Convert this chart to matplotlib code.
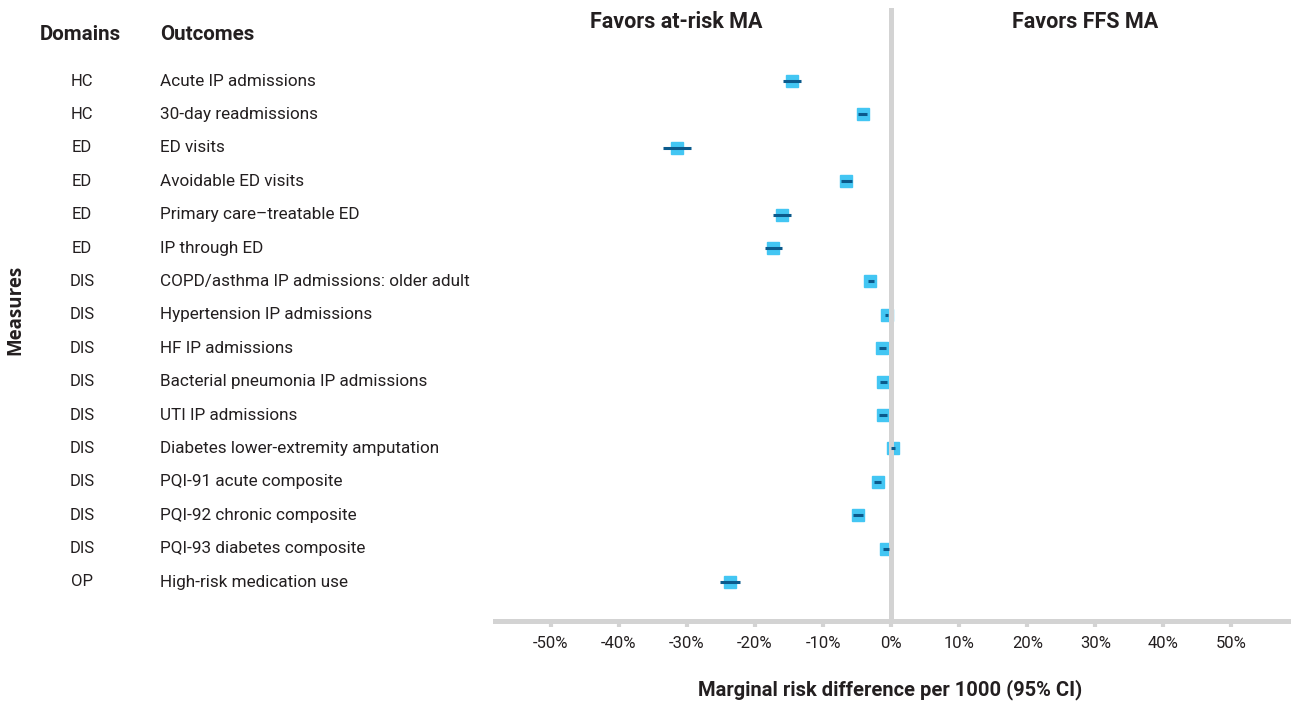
import matplotlib
matplotlib.use('Agg')
import matplotlib.pyplot as plt
import matplotlib.transforms as transforms
import numpy as np

plt.rcParams['font.family'] = ['Roboto', 'DejaVu Sans']

# data (risk difference in %, 95% CI)
domains = ['HC', 'HC', 'ED', 'ED', 'ED', 'ED', 'DIS', 'DIS', 'DIS', 'DIS',
           'DIS', 'DIS', 'DIS', 'DIS', 'DIS', 'OP']
outcomes = ['Acute IP admissions', '30-day readmissions', 'ED visits',
            'Avoidable ED visits', 'Primary care\u2013treatable ED', 'IP through ED',
            'COPD/asthma IP admissions: older adult', 'Hypertension IP admissions',
            'HF IP admissions', 'Bacterial pneumonia IP admissions', 'UTI IP admissions',
            'Diabetes lower-extremity amputation', 'PQI-91 acute composite',
            'PQI-92 chronic composite', 'PQI-93 diabetes composite',
            'High-risk medication use']
est = [-14.6, -4.1, -31.5, -6.6, -16.0, -17.4, -3.1, -0.6, -1.3, -1.2, -1.2, 0.3,
       -1.9, -4.9, -0.7, -23.7]
lo = [-15.9, -4.9, -33.5, -7.3, -17.4, -18.5, -3.4, -0.9, -1.8, -1.6, -1.8, 0.0,
      -2.5, -5.6, -1.2, -25.1]
hi = [-13.2, -3.5, -29.4, -5.7, -14.7, -16.0, -2.5, -0.4, -0.8, -0.6, -0.6, 0.6,
      -1.5, -4.1, -0.3, -22.2]
xticks = [-50, -40, -30, -20, -10, 0, 10, 20, 30, 40, 50]

W, H = 1291, 701
fig = plt.figure(figsize=(W / 100, H / 100), dpi=100)
ax = fig.add_axes([495 / W, 1 - 621 / H, (1290 - 495) / W, (621 - 8) / H])

txt = '#231f20'
grey = '#d3d3d3'
rows = np.arange(len(outcomes))

ax.plot(est, rows, 's', color='#43c6f3', markersize=8.8, zorder=2)
ax.axvline(0, color=grey, lw=3.6, zorder=3)
ax.hlines(rows, lo, hi, color='#0b5a8c', lw=2.2, zorder=4)

ax.set_xlim(-58.2, 58.6)
ax.set_ylim((621 - 81) / 33.4, (8 - 81) / 33.4)

for s in ['top', 'right', 'left']:
    ax.spines[s].set_visible(False)
ax.spines['bottom'].set_color(grey)
ax.spines['bottom'].set_linewidth(3.6)
ax.set_yticks([])
ax.set_xticks(xticks)
ax.set_xticklabels(['%d%%' % t for t in xticks], fontsize=12, color=txt)
ax.tick_params(axis='x', length=4, width=3, color=grey, pad=7)

fig.text(890 / W, 1 - 690 / H, 'Marginal risk difference per 1000 (95% CI)',
         ha='center', va='center', fontsize=14.5, fontweight='bold', color=txt)

trans = transforms.blended_transform_factory(fig.transFigure, ax.transData)
for i in rows:
    ax.text(82 / W, i, domains[i], transform=trans, ha='center', va='center',
            fontsize=12, color=txt)
    ax.text(160 / W, i, outcomes[i], transform=trans, ha='left', va='center',
            fontsize=12.3, color=txt)

fig.text(40 / W, 1 - 35 / H, 'Domains', ha='left', va='center', fontsize=14.8,
         fontweight='bold', color=txt)
fig.text(160 / W, 1 - 35 / H, 'Outcomes', ha='left', va='center', fontsize=14.8,
         fontweight='bold', color=txt)
fig.text(676 / W, 1 - 22 / H, 'Favors at-risk MA', ha='center', va='center',
         fontsize=15.5, fontweight='bold', color=txt)
fig.text(1085 / W, 1 - 22 / H, 'Favors FFS MA', ha='center', va='center',
         fontsize=15.5, fontweight='bold', color=txt)
fig.text(15 / W, 1 - 310 / H, 'Measures', ha='center', va='center', rotation=90,
         fontsize=13.5, fontweight='bold', color=txt, family=['Open Sans', 'DejaVu Sans'])

fig.savefig('out.png', dpi=100)
